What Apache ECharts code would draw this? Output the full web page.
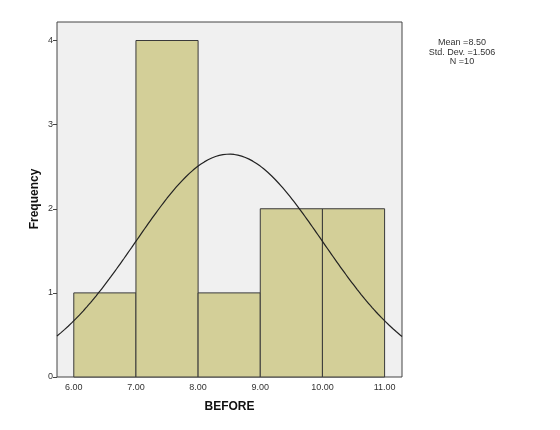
<!DOCTYPE html>
<html>
<head>
<meta charset="utf-8">
<script src="https://cdn.jsdelivr.net/npm/echarts@6/dist/echarts.min.js"></script>
<style>
  html, body { margin: 0; padding: 0; background: #fff; }
  #main { width: 560px; height: 430px; }
</style>
</head>
<body>
<div id="main"></div>
<script>
 var myChart = echarts.init(document.getElementById('main'));

 // bins of BEFORE: [from, to, count]
 var binStart = [6, 7, 8, 9, 10];
 var binEnd = [7, 8, 9, 10, 11];
 var counts = [1, 4, 1, 2, 2];
 var xTicks = [6, 7, 8, 9, 10, 11];
 var yTicks = [0, 1, 2, 3, 4];

 // summary shown next to the chart
 var mean = 8.50;
 var stdDev = 1.506;
 var total = 10;

 var bars = [];
 for (var i = 0; i < counts.length; i++) {
   bars.push([binStart[i], binEnd[i], counts[i]]);
 }

 // fitted normal curve (frequency scale, bin width 1)
 var xMin = 5.73, xMax = 11.28;
 var curve = [];
 for (var x = xMin; x <= xMax + 1e-9; x += 0.03) {
   var z = (x - mean) / stdDev;
   curve.push([x, total / (stdDev * Math.sqrt(2 * Math.PI)) * Math.exp(-z * z / 2)]);
 }

 var option = {
   animation: false,
   grid: {
     left: 57, top: 22, width: 345, height: 355,
     show: true,
     backgroundColor: '#f0f0f0',
     borderColor: '#444',
     borderWidth: 1
   },
   xAxis: {
     type: 'value',
     min: xMin,
     max: xMax,
     name: 'BEFORE',
     nameLocation: 'middle',
     nameGap: 24,
     nameTextStyle: { fontFamily: 'Liberation Sans', fontWeight: 'bold', fontSize: 12, color: '#111' },
     axisLine: { show: false },
     axisTick: { show: false },
     splitLine: { show: false },
     axisLabel: {
       customValues: xTicks,
       formatter: function (v) { return v.toFixed(2); },
       fontFamily: 'Liberation Sans',
       fontSize: 9,
       color: '#333',
       margin: 6
     }
   },
   yAxis: {
     type: 'value',
     min: 0,
     max: 4.22,
     axisLine: { show: false },
     axisTick: { show: true, customValues: yTicks, length: 4, lineStyle: { color: '#444' } },
     splitLine: { show: false },
     axisLabel: {
       customValues: yTicks,
       fontFamily: 'Liberation Sans',
       fontSize: 9,
       color: '#333',
       margin: 4
     }
   },
   graphic: [{
     type: 'text',
     x: 462,
     y: 38,
     style: {
       text: 'Mean =' + mean.toFixed(2) + '\nStd. Dev. =' + stdDev.toFixed(3) + '\nN =' + total,
       textAlign: 'center',
       font: '9px "Liberation Sans"',
       lineHeight: 9.5,
       fill: '#333'
     }
   }, {
     type: 'text',
     x: 35,
     y: 199,
     rotation: Math.PI / 2,
     style: {
       text: 'Frequency',
       textAlign: 'center',
       textVerticalAlign: 'middle',
       font: 'bold 12px "Liberation Sans"',
       fill: '#111'
     }
   }],
   series: [
     {
       type: 'custom',
       data: bars,
       renderItem: function (params, api) {
         var p0 = api.coord([api.value(0), api.value(2)]);
         var p1 = api.coord([api.value(1), 0]);
         return {
           type: 'rect',
           shape: { x: p0[0], y: p0[1], width: p1[0] - p0[0], height: p1[1] - p0[1] },
           style: { fill: '#d3cf98', stroke: '#3a3a3a', lineWidth: 1 }
         };
       },
       z: 2
     },
     {
       type: 'line',
       data: curve,
       showSymbol: false,
       lineStyle: { color: '#222', width: 1.2 },
       z: 3
     }
   ]
 };

 myChart.setOption(option);
</script>
</body>
</html>
